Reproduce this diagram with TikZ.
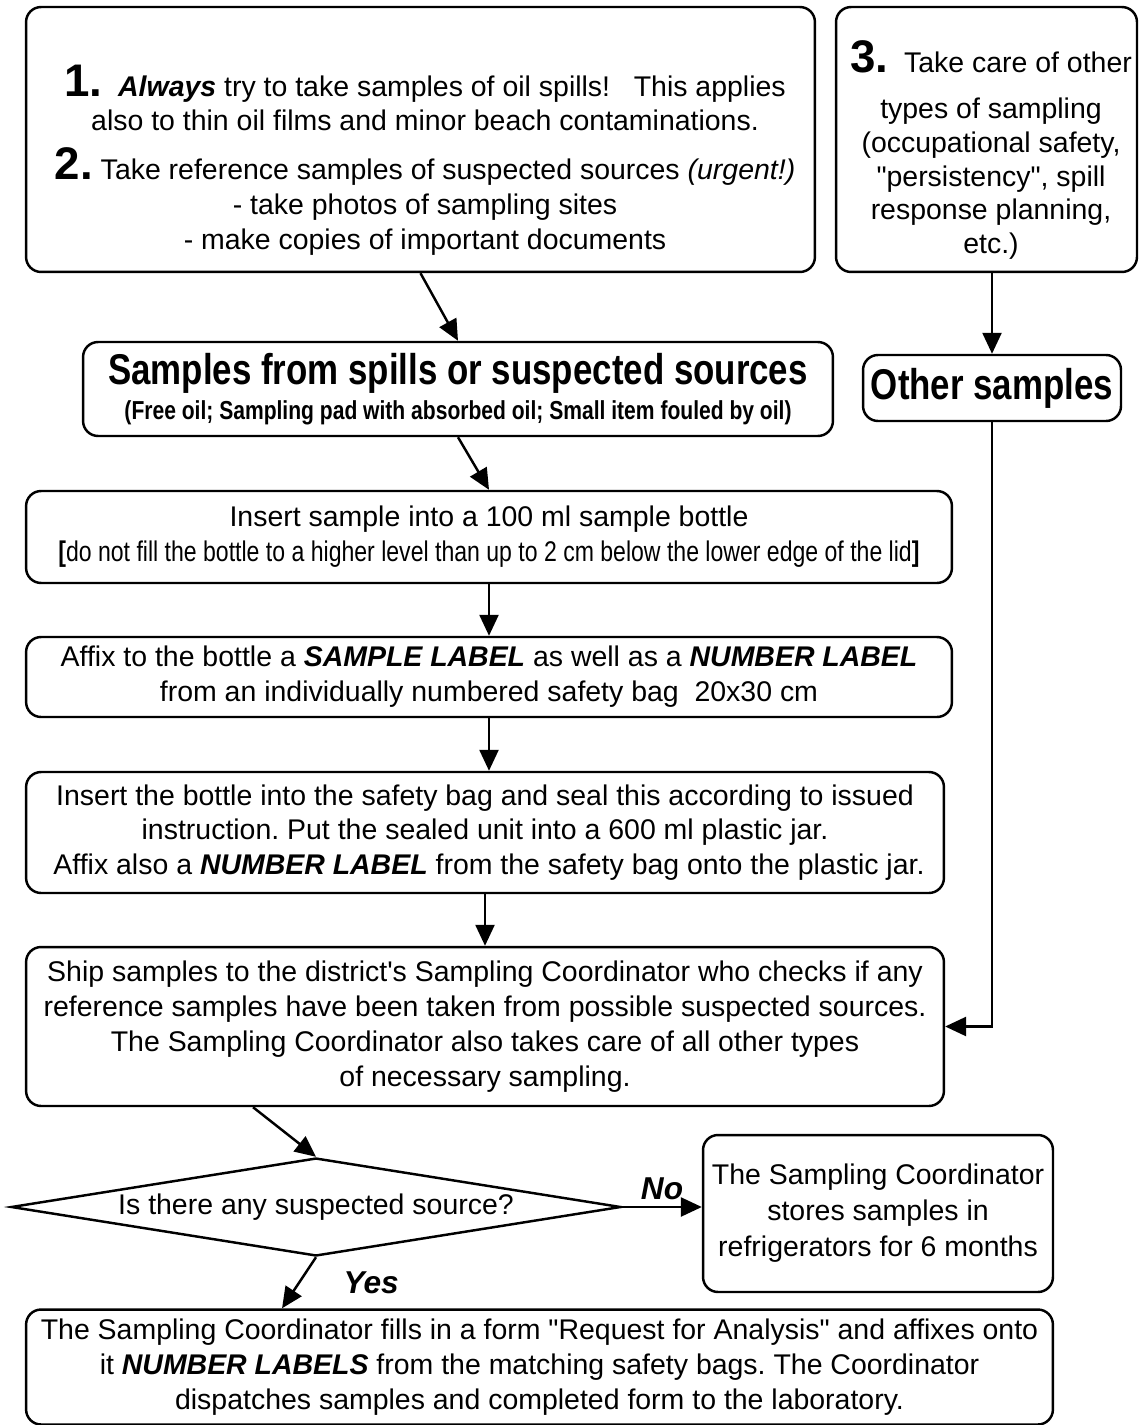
\documentclass[tikz,border=0pt]{standalone}
\usepackage{fontspec}
\newfontfamily\plainfont{Liberation Sans}
\newfontfamily\narrowfont[FakeStretch=0.81]{Liberation Sans}
\usetikzlibrary{arrows.meta,positioning,shapes.geometric}
\newcommand{\bignum}[1]{{\fontsize{26}{26}\selectfont\bfseries #1}}
\newcommand{\bi}[1]{\textbf{\textit{#1}}}
\frenchspacing

\begin{document}
\begin{tikzpicture}[x=0.02cm,y=-0.02cm,font=\plainfont\fontsize{16.2}{19.8}\selectfont,
  >={Triangle[length=0.42cm,width=0.38cm]},
  box/.style={draw,line width=1.4pt,rounded corners=0.3cm,align=center,inner sep=0pt},
  decision/.style={draw,diamond,shape aspect=6.1,line width=1.4pt,inner sep=0pt,
    minimum width=12.2cm,minimum height=1.96cm},
  link/.style={->,line width=1.4pt},
  answer/.style={font=\plainfont\fontsize{18}{18}\selectfont\bfseries\itshape}]
  \useasboundingbox (0,0) rectangle (1139,1425);
  \node[box,minimum width=15.78cm,minimum height=5.3cm] (note1) at (420.5,139.5) {};
  \node[align=center,inner sep=0pt] (note1txt) at (425,160)
    {\bignum{1.}\ \ \bi{Always} try to take samples of oil spills!\ \ \ This applies\\
     also to thin oil films and minor beach contaminations.\\[8pt]
     \bignum{2.}\ Take reference samples of suspected sources \textit{(urgent!)}\\
     - take photos of sampling sites\\
     - make copies of important documents};
  \node[box,minimum width=6.02cm,minimum height=5.3cm] (note3) at (986.5,139.5) {};
  \node[align=center,inner sep=0pt,font=\plainfont\fontsize{16.2}{19.2}\selectfont] (note3txt) at (991,150)
    {\bignum{3.}\ \ Take care of other\\[7pt]
     types of sampling\\ (occupational safety,\\ "persistency", spill\\
     response planning,\\ etc.)};
  \node[box,minimum width=15cm,minimum height=1.88cm] (spills) at (458,389)
    {{\narrowfont\bfseries\fontsize{24.5}{28}\selectfont Samples from spills or suspected sources}\\
     {\narrowfont\bfseries\fontsize{14.8}{17}\selectfont (Free oil; Sampling pad with absorbed oil; Small item fouled by oil)}};
  \node[box,minimum width=5.16cm,minimum height=1.32cm] (other) at (992,388)
    {\narrowfont\bfseries\fontsize{24.5}{28}\selectfont Other samples};
  \node[box,minimum width=18.52cm,minimum height=1.84cm] (bottle) at (489,537)
    {Insert sample into a 100 ml sample bottle\\
     {\narrowfont\textbf{[}do not fill the bottle to a higher level than up to 2 cm below the lower edge of the lid\textbf{]}}};
  \node[box,minimum width=18.52cm,minimum height=1.6cm] (label) at (489,677)
    {Affix to the bottle a \bi{SAMPLE LABEL} as well as a \bi{NUMBER LABEL}\\
     from an individually numbered safety bag\ \ 20x30 cm};
  \node[box,minimum width=18.36cm,minimum height=2.42cm] (jar) at (485,832.5)
    {Insert the bottle into the safety bag and seal this according to issued\\
     instruction. Put the sealed unit into a 600 ml plastic jar.\\
     \ Affix also a \bi{NUMBER LABEL} from the safety bag onto the plastic jar.};
  \node[box,minimum width=18.36cm,minimum height=3.18cm] (ship) at (485,1026.5)
    {Ship samples to the district's Sampling Coordinator who checks if any\\
     reference samples have been taken from possible suspected sources.\\
     The Sampling Coordinator also takes care of all other types\\
     of necessary sampling.};
  \node[decision] (query) at (316,1207) {Is there any suspected source?};
  \node[box,minimum width=7cm,minimum height=3.14cm,font=\plainfont\fontsize{16.2}{20.5}\selectfont] (store) at (878,1213.5)
    {The Sampling Coordinator\\ stores samples in\\ refrigerators for 6 months};
  \node[box,minimum width=20.54cm,minimum height=2.3cm] (request) at (539.5,1367)
    {The Sampling Coordinator fills in a form "Request for Analysis" and affixes onto\\
     it \bi{NUMBER LABELS} from the matching safety bags. The Coordinator\\
     dispatches samples and completed form to the laboratory.};
  \draw[link] (note1.south) -- (spills.north);
  \draw[link] (other.north |- note3.south) -- (other.north);
  \draw[link] (spills.south) -- (bottle.north);
  \draw[link] (bottle.south) -- (label.north);
  \draw[link] (label.south) -- (label.south |- jar.north);
  \draw[link] (jar.south) -- (ship.north);
  \draw[link] (other.south) |- (ship.east);
  \draw[link] ([xshift=-4.64cm]ship.south) -- (query.north);
  \draw[link] (query.east) -- (query.east -| store.west) node[midway,above,answer] {No};
  \draw[link] (query.south) -- ([xshift=-5.15cm]request.north) node[midway,right=0.75cm,answer] {Yes};
\end{tikzpicture}
\end{document}
